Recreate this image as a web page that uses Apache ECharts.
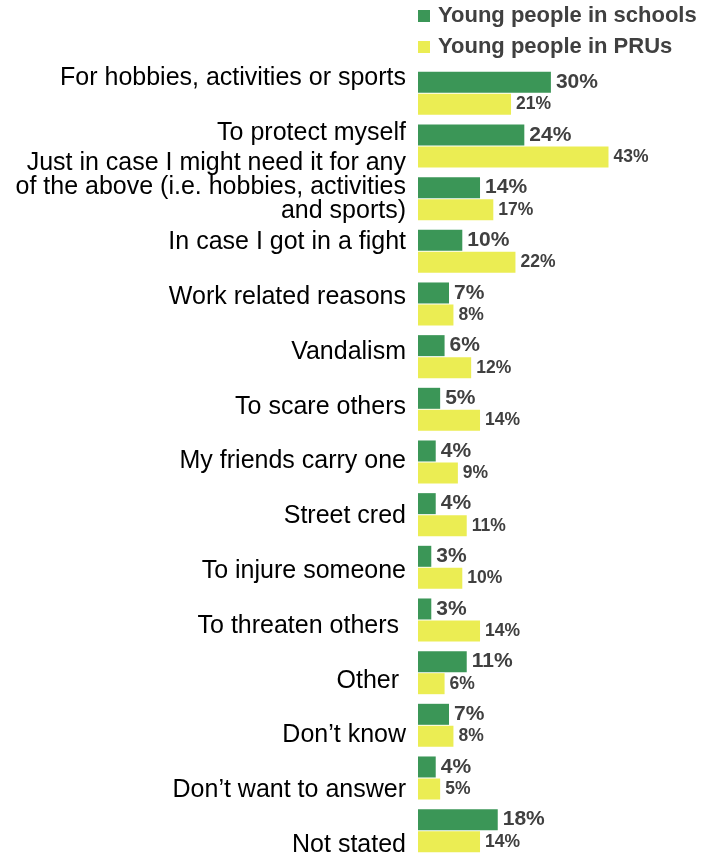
<!DOCTYPE html>
<html>
<head>
<meta charset="utf-8">
<script src="https://cdn.jsdelivr.net/npm/echarts@6/dist/echarts.min.js"></script>
<style>
  html, body { margin: 0; padding: 0; background: #ffffff; }
  #chart { width: 703px; height: 858px; }
</style>
</head>
<body>
<div id="chart"></div>
<script>
// Reasons given for carrying a knife (% of respondents)
const categories = [
  'For hobbies, activities or sports',
  'To protect myself',
  'Just in case I might need it for any\nof the above (i.e. hobbies, activities\nand sports)',
  'In case I got in a fight',
  'Work related reasons',
  'Vandalism',
  'To scare others',
  'My friends carry one',
  'Street cred',
  'To injure someone',
  'To threaten others ',
  'Other ',
  'Don\u2019t know',
  'Don\u2019t want to answer',
  'Not stated'
];
const seriesNames = ['Young people in schools', 'Young people in PRUs'];
const schools = [30, 24, 14, 10, 7, 6, 5, 4, 4, 3, 3, 11, 7, 4, 18];
const prus = [21, 43, 17, 22, 8, 12, 14, 9, 11, 10, 14, 6, 8, 5, 14];

const GREEN = '#3b9657';
const YELLOW = '#ebed53';
const FONT = 'Liberation Sans, Arial, sans-serif';

const chart = echarts.init(document.getElementById('chart'), null, { renderer: 'canvas' });

chart.setOption({
  animation: false,
  backgroundColor: '#ffffff',
  legend: {
    orient: 'vertical',
    left: 418,
    top: 5,
    padding: 0,
    itemWidth: 12,
    itemHeight: 12,
    itemGap: 9,
    icon: 'rect',
    data: seriesNames,
    textStyle: {
      fontFamily: FONT,
      fontSize: 22,
      fontWeight: 'bold',
      color: '#404040',
      padding: [0, 0, 0, 3]
    }
  },
  grid: [
    // bars
    { left: 418, top: 67, width: 221.5, height: 790, containLabel: false },
    // category captions, spaced on their own axis
    { left: 418, top: 78, width: 221.5, height: 767, containLabel: false }
  ],
  xAxis: [
    { gridIndex: 0, type: 'value', min: 0, max: 50, show: false },
    { gridIndex: 1, type: 'value', min: 0, max: 1, show: false }
  ],
  yAxis: [
    {
      gridIndex: 0,
      type: 'category',
      data: categories,
      inverse: true,
      axisLine: { show: false },
      axisTick: { show: false },
      axisLabel: { show: false },
      splitLine: { show: false }
    },
    {
      gridIndex: 1,
      type: 'category',
      data: categories,
      inverse: true,
      boundaryGap: false,
      axisLine: { show: false },
      axisTick: { show: false },
      splitLine: { show: false },
      axisLabel: {
        margin: 12,
        interval: 0,
        fontFamily: FONT,
        fontSize: 25,
        lineHeight: 24,
        color: '#000000',
        align: 'right'
      }
    }
  ],
  series: [
    {
      name: seriesNames[0],
      type: 'bar',
      xAxisIndex: 0,
      yAxisIndex: 0,
      data: schools,
      barWidth: 21,
      barGap: '5%',
      itemStyle: { color: GREEN },
      label: {
        show: true,
        position: 'right',
        distance: 5,
        formatter: '{c}%',
        fontFamily: FONT,
        fontSize: 21,
        fontWeight: 'bold',
        color: '#404040'
      }
    },
    {
      name: seriesNames[1],
      type: 'bar',
      xAxisIndex: 0,
      yAxisIndex: 0,
      data: prus,
      barWidth: 21,
      barGap: '5%',
      itemStyle: { color: YELLOW },
      label: {
        show: true,
        position: 'right',
        distance: 5,
        formatter: '{c}%',
        fontFamily: FONT,
        fontSize: 17.5,
        fontWeight: 'bold',
        color: '#404040'
      }
    }
  ]
});
</script>
</body>
</html>
